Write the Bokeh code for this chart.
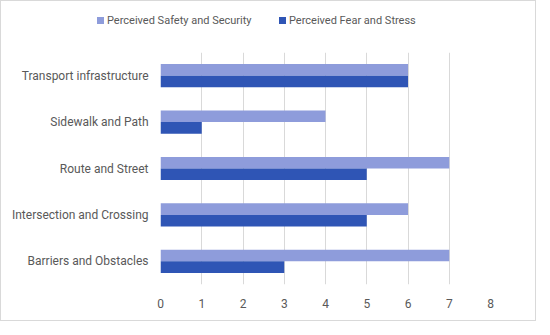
from bokeh.plotting import figure
from bokeh.models import FactorRange, Range1d, FixedTicker, ColumnDataSource, Div
from bokeh.layouts import column
from bokeh.transform import dodge
from bokeh.embed import file_html
from bokeh.resources import INLINE

categories = ["Transport infrastructure", "Sidewalk and Path", "Route and Street",
              "Intersection and Crossing", "Barriers and Obstacles"]
safety = [6, 4, 7, 6, 7]
fear = [6, 1, 5, 5, 3]
x_ticks = [0, 1, 2, 3, 4, 5, 6, 7, 8]
series_names = ["Perceived Safety and Security", "Perceived Fear and Stress"]

FONT = "Roboto"
TXT = "#595959"
LIGHT = "#8E9CDB"
DARK = "#2F55B5"

src = ColumnDataSource(dict(cat=categories, safety=safety, fear=fear))

p = figure(width=534, height=279, output_backend="svg", toolbar_location=None,
           y_range=FactorRange(*list(reversed(categories)), range_padding=0),
           x_range=Range1d(0, 8),
           min_border_left=159, min_border_right=45, min_border_top=11, min_border_bottom=36)

p.hbar(y=dodge("cat", 0.125, range=p.y_range), right="safety", left=0, height=0.25,
       source=src, color=LIGHT, line_color=None)
p.hbar(y=dodge("cat", -0.125, range=p.y_range), right="fear", left=0, height=0.25,
       source=src, color=DARK, line_color=None)

p.outline_line_color = None
p.ygrid.grid_line_color = None
p.xgrid.grid_line_color = "#D9D9D9"
p.xgrid.grid_line_width = 1
p.xaxis.ticker = FixedTicker(ticks=x_ticks)
for ax in (p.xaxis[0], p.yaxis[0]):
    ax.axis_line_color = None
    ax.major_tick_line_color = None
    ax.minor_tick_line_color = None
    ax.major_label_text_font = FONT
    ax.major_label_text_font_size = "12px"
    ax.major_label_text_color = TXT
p.xaxis.major_label_standoff = 8
p.yaxis.major_label_standoff = 6

# legend (HTML) above the chart
def item(left, color, label):
    return (f'<span style="position:absolute;left:{left}px;top:16px;width:7px;height:7px;'
            f'background:{color};"></span>'
            f'<span style="position:absolute;left:{left + 10}px;top:12px;line-height:15px;'
            f'white-space:nowrap;">{label}</span>')

legend_html = ('<div style="position:relative;width:534px;height:40px;'
               f'font-family:{FONT};font-size:11px;color:{TXT};">'
               + item(96, LIGHT, series_names[0]) + item(278, DARK, series_names[1]) + '</div>')
legend_div = Div(text=legend_html, width=534, height=40, margin=0)

layout = column(legend_div, p, spacing=0,
                styles={"border": "1px solid #D9D9D9", "box-sizing": "border-box"})

open("out.html", "w").write(file_html(layout, INLINE))
